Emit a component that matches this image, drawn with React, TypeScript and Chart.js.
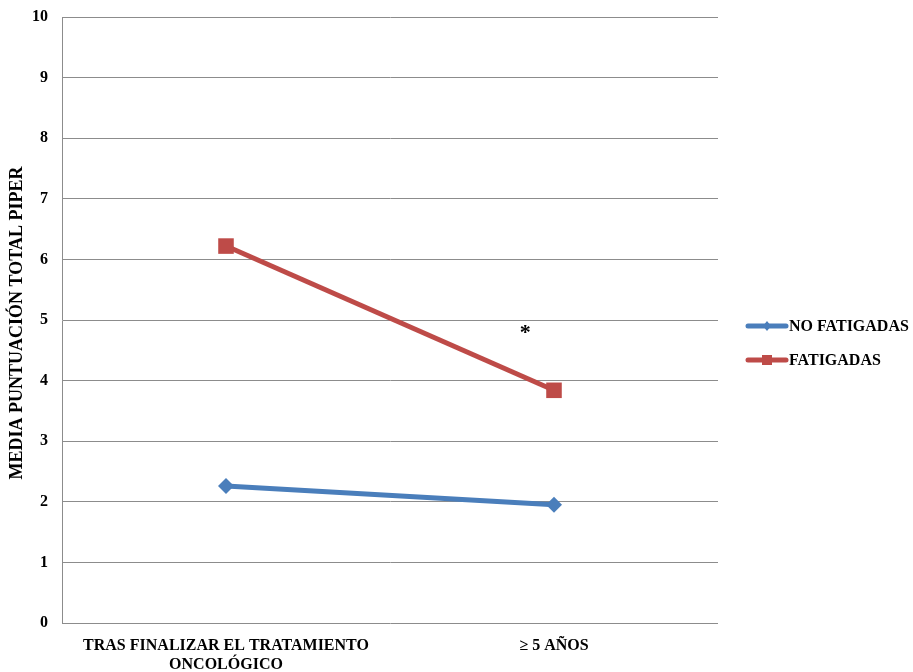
import React, { useEffect, useRef } from "react";
import { Chart, registerables } from "chart.js";

Chart.register(...registerables);

const categories: (string | string[])[] = [
  ["TRAS FINALIZAR EL TRATAMIENTO", "ONCOLÓGICO"],
  "≥ 5 AÑOS",
];
const noFatigadas = [2.26, 1.95];
const fatigadas = [6.22, 3.84];
const seriesNames = ["NO FATIGADAS", "FATIGADAS"];
const yTicks = [0, 1, 2, 3, 4, 5, 6, 7, 8, 9, 10];
const yTitle = "MEDIA PUNTUACIÓN TOTAL PIPER";
const annotation = { text: "*", value: 4.85 };

const BLUE = "#4A7EBB";
const RED = "#BE4B48";
const FONT = "'Liberation Serif', 'Times New Roman', serif";

export default function App() {
  const ref = useRef<HTMLCanvasElement>(null);
  useEffect(() => {
    document.body.style.margin = "0";
    const extras = {
      id: "extras",
      afterDraw(chart: any) {
        const ctx = chart.ctx;
        const x = chart.scales.x;
        const y = chart.scales.y;
        ctx.save();
        // asterisk annotation
        ctx.fillStyle = "#000";
        ctx.font = `bold 22px ${FONT}`;
        ctx.textAlign = "center";
        ctx.textBaseline = "middle";
        const ax = x.getPixelForValue(1) - (x.getPixelForValue(1) - x.getPixelForValue(0)) * 0.088;
        ctx.fillText(annotation.text, ax, y.getPixelForValue(annotation.value) + 4);
        // legend
        const colors = [BLUE, RED];
        const lx = chart.chartArea.right + 30;
        const cy = (chart.chartArea.top + chart.chartArea.bottom) / 2;
        const rows = [cy + 6, cy + 40];
        seriesNames.forEach((name, i) => {
          const ry = rows[i];
          ctx.strokeStyle = colors[i];
          ctx.lineWidth = 5;
          ctx.lineCap = "round";
          ctx.beginPath();
          ctx.moveTo(lx, ry);
          ctx.lineTo(lx + 38, ry);
          ctx.stroke();
          ctx.fillStyle = colors[i];
          const mx = lx + 19;
          if (i === 0) {
            ctx.beginPath();
            ctx.moveTo(mx, ry - 5);
            ctx.lineTo(mx + 4, ry);
            ctx.lineTo(mx, ry + 5);
            ctx.lineTo(mx - 4, ry);
            ctx.closePath();
            ctx.fill();
          } else {
            ctx.fillRect(mx - 5, ry - 5, 10, 10);
          }
          ctx.fillStyle = "#000";
          ctx.font = `bold 16px ${FONT}`;
          ctx.textAlign = "left";
          ctx.textBaseline = "middle";
          ctx.fillText(name, lx + 41, ry + 1);
        });
        // y title
        ctx.translate(17, (chart.chartArea.top + chart.chartArea.bottom) / 2 + 3);
        ctx.rotate(-Math.PI / 2);
        ctx.fillStyle = "#000";
        ctx.font = `bold 18px ${FONT}`;
        ctx.textAlign = "center";
        ctx.textBaseline = "middle";
        ctx.fillText(yTitle, 0, 0);
        ctx.restore();
      },
    };
    const chart = new Chart(ref.current!, {
      type: "line",
      data: {
        labels: categories as any,
        datasets: [
          {
            label: seriesNames[0],
            data: noFatigadas,
            borderColor: BLUE,
            backgroundColor: BLUE,
            borderWidth: 5,
            pointStyle: "rectRot",
            pointRadius: 8,
            pointBorderWidth: 0,
            pointBackgroundColor: BLUE,
          },
          {
            label: seriesNames[1],
            data: fatigadas,
            borderColor: RED,
            backgroundColor: RED,
            borderWidth: 5,
            pointStyle: "rect",
            pointRadius: 11,
            pointBorderWidth: 0,
            pointBackgroundColor: RED,
          },
        ],
      },
      options: {
        animation: false,
        responsive: false,
        layout: { padding: { top: 17, right: 195, left: 0, bottom: 0 } },
        plugins: { legend: { display: false }, tooltip: { enabled: false } },
        scales: {
          x: {
            offset: true,
            grid: { display: false, drawTicks: false },
            border: { display: false },
            ticks: {
              color: "#000",
              font: { family: FONT, weight: "bold", size: 16, lineHeight: 1.2 },
              padding: 13,
              maxRotation: 0,
              autoSkip: false,
            },
            afterFit(scale: any) {
              scale.height = 49;
              scale.paddingLeft = 0;
              scale.paddingRight = 0;
            },
          },
          y: {
            min: 0,
            max: 10,
            afterBuildTicks(scale: any) {
              scale.ticks = yTicks.map((v) => ({ value: v }));
            },
            grid: { color: "#8C8C8C", lineWidth: 1, drawTicks: false },
            border: { display: true, color: "#8C8C8C" },
            ticks: {
              color: "#000",
              font: { family: FONT, weight: "bold", size: 16 },
              padding: 14,
            },
            afterFit(scale: any) {
              scale.width = 62;
              scale.paddingTop = 0;
              scale.paddingBottom = 0;
            },
          },
        },
      },
      plugins: [extras],
    });
    return () => chart.destroy();
  }, []);
  return <canvas ref={ref} width={913} height={672} style={{ display: "block" }} />;
}
